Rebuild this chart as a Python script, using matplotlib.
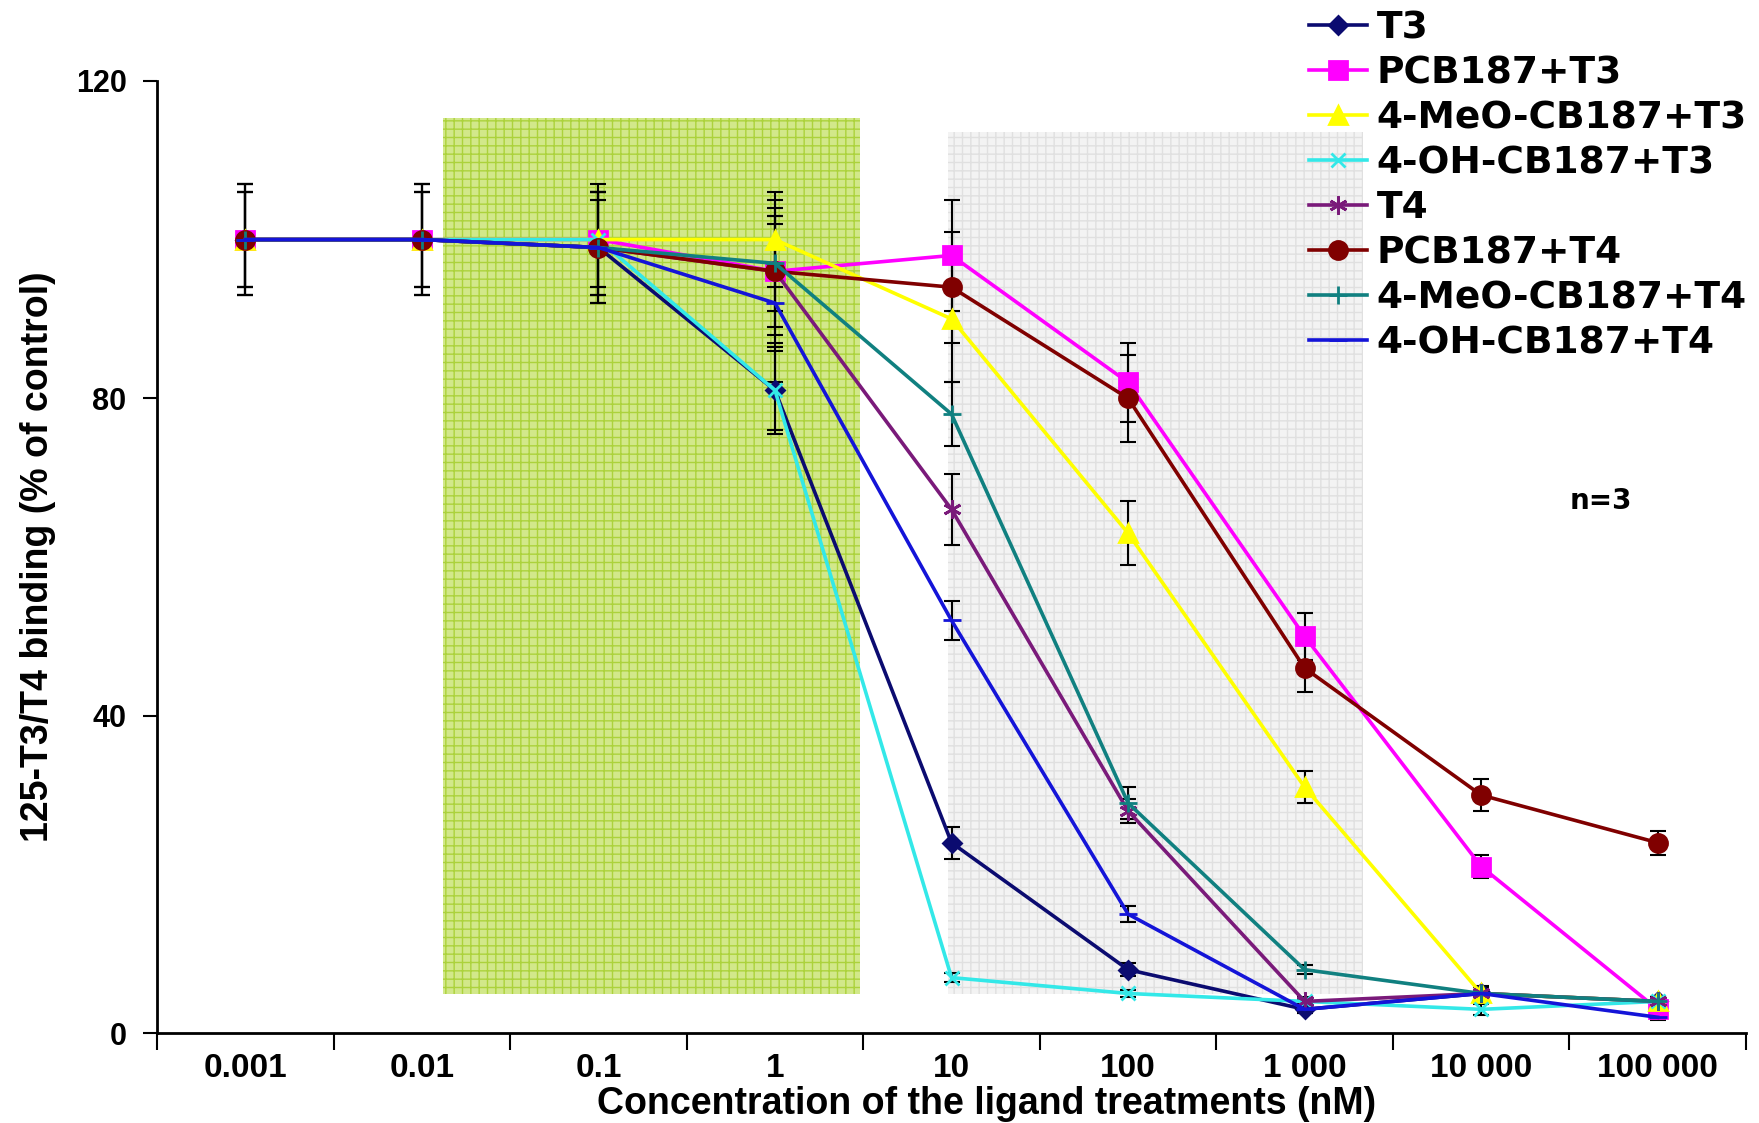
import numpy as np
import matplotlib.pyplot as plt
from matplotlib.patches import Rectangle

# concentrations (nM), plotted as evenly spaced categories
conc_labels = ['0.001', '0.01', '0.1', '1', '10', '100', '1 000', '10 000', '100 000']

series_names = ['T3', 'PCB187+T3', '4-MeO-CB187+T3', '4-OH-CB187+T3',
                'T4', 'PCB187+T4', '4-MeO-CB187+T4', '4-OH-CB187+T4']

t3 = [100, 100, 99, 81, 24, 8, 3, 5, 4]
pcb_t3 = [100, 100, 100, 96, 98, 82, 50, 21, 3]
meo_t3 = [100, 100, 100, 100, 90, 63, 31, 5, 4]
oh_t3 = [100, 100, 100, 81, 7, 5, 4, 3, 4]
t4 = [100, 100, 99, 96, 66, 28, 4, 5, 4]
pcb_t4 = [100, 100, 99, 96, 94, 80, 46, 30, 24]
meo_t4 = [100, 100, 99, 97, 78, 29, 8, 5, 4]
oh_t4 = [100, 100, 99, 92, 52, 15, 3, 5, 2]

# standard errors
t3_err = [7, 7, 7, 5.5, 2, 0.8, 0.5, 0.5, 0.5]
pcb_t3_err = [7, 7, 6, 8, 7, 5, 3, 1.5, 0.5]
meo_t3_err = [7, 7, 6, 6, 8, 4, 2, 1, 0.5]
oh_t3_err = [6, 6, 7, 5, 0.6, 0.5, 0.3, 0.7, 0.5]
t4_err = [6, 6, 6, 7, 4.5, 1.5, 0.5, 0.8, 0.6]
pcb_t4_err = [7, 7, 7, 9, 7, 5.5, 3, 2, 1.5]
meo_t4_err = [6, 6, 7, 6, 4, 2, 0.6, 0.5, 0.5]
oh_t4_err = [6, 6, 6, 10, 2.5, 1, 0.4, 0.5, 0.3]

values = [t3, pcb_t3, meo_t3, oh_t3, t4, pcb_t4, meo_t4, oh_t4]
errors = [t3_err, pcb_t3_err, meo_t3_err, oh_t3_err, t4_err, pcb_t4_err, meo_t4_err, oh_t4_err]

colors = ['#0b0b70', '#ff00ff', '#ffff00', '#33e8e8', '#7a1a7a', '#800000', '#108080', '#1414d8']
markers = ['D', 's', '^', 'x', (6, 2, 0), 'o', '+', '_']
msizes = [9, 13, 13, 10, 13, 13, 13, 13]

plt.rcParams['font.family'] = ['Liberation Sans', 'DejaVu Sans']
wide = ['DejaVu Sans']

fig = plt.figure(figsize=(17.59, 11.23), dpi=100)
ax = fig.add_axes([0.0893, 0.080, 0.9033, 0.848])

x = np.arange(len(conc_labels))

# shaded bands
ax.add_patch(Rectangle((1.12, 4.9), 2.36, 110.4, facecolor='#d2e88a', edgecolor='#acd23c',
                       hatch='++', linewidth=0, zorder=0))
ax.add_patch(Rectangle((3.98, 4.9), 2.35, 108.7, facecolor='#f3f3f3', edgecolor='#e0e0e0',
                       hatch='++', linewidth=0, zorder=0))

handles = []
for name, v, e, c, m, ms in zip(series_names, values, errors, colors, markers, msizes):
    ax.errorbar(x, v, yerr=e, fmt='none', ecolor='black', elinewidth=1.5,
                capsize=6, capthick=1.5, zorder=2)
    h, = ax.plot(x, v, color=c, marker=m, markersize=ms, linewidth=2.6,
                 markeredgewidth=2, label=name, zorder=3)
    handles.append(h)

ax.set_xlim(-0.5, 8.5)
ax.set_ylim(0, 120)
ax.set_yticks([0, 40, 80, 120])
ax.set_yticklabels(['0', '40', '80', '120'], fontsize=22, fontweight='bold')
ax.set_xticks(x)
ax.set_xticklabels(conc_labels, fontsize=24, fontweight='bold')
ax.set_xticks(np.arange(-0.5, 9, 1), minor=True)
ax.tick_params(axis='x', which='major', length=0, pad=14)
ax.tick_params(axis='x', which='minor', length=12, width=1.5, direction='out')
ax.tick_params(axis='y', length=10, width=1.5, direction='out', pad=12)

for s in ['top', 'right']:
    ax.spines[s].set_visible(False)
for s in ['left', 'bottom']:
    ax.spines[s].set_linewidth(2)

ax.set_xlabel('Concentration of the ligand treatments (nM)', fontsize=27,
              fontweight='bold', labelpad=2)
ax.xaxis.label.set_x(0.522)
ax.set_ylabel('125-T3/T4 binding (% of control)', fontsize=27,
              fontweight='bold', labelpad=14)

ax.text(7.68, 67, 'n=3', fontsize=20, fontweight='bold', family=wide,
        ha='center', va='center')

fig.legend(handles=handles, loc='upper left', bbox_to_anchor=(0.742, 0.994),
           frameon=False, prop={'size': 27, 'weight': 'bold', 'family': wide},
           labelspacing=0.24, handlelength=1.55, handletextpad=0.25,
           borderaxespad=0.0, borderpad=0.1)

fig.savefig('out.png', dpi=100, facecolor='white')
